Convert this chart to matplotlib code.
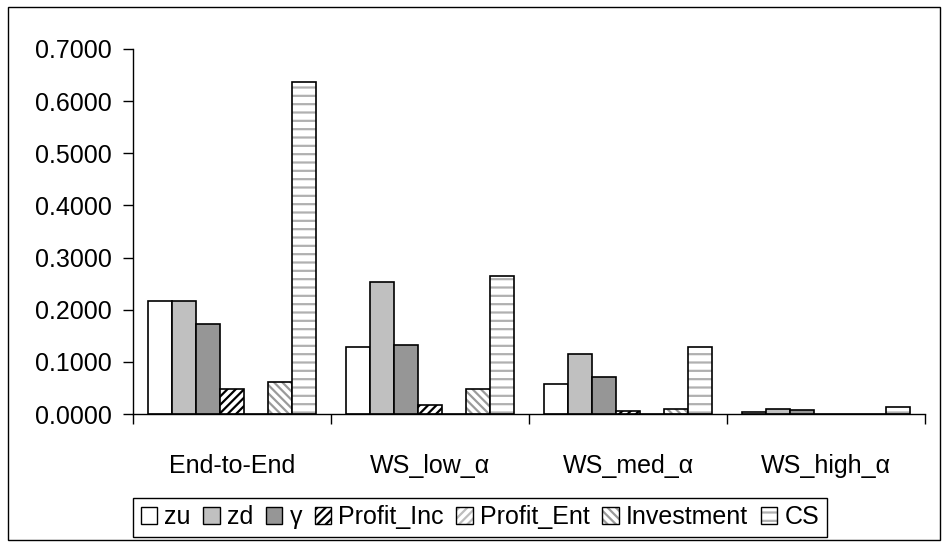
import numpy as np
import matplotlib.pyplot as plt
from matplotlib.patches import Patch, Rectangle
from matplotlib.legend_handler import HandlerTuple

plt.rcParams['font.family'] = ['Liberation Sans', 'DejaVu Sans']
plt.rcParams['hatch.linewidth'] = 1.6

groups = ['End-to-End', 'WS_low_α', 'WS_med_α', 'WS_high_α']
series = ['zu', 'zd', 'γ', 'Profit_Inc', 'Profit_Ent', 'Investment', 'CS']

zu = [0.2166, 0.1280, 0.0570, 0.0040]
zd = [0.2166, 0.2530, 0.1150, 0.0100]
gamma = [0.1730, 0.1330, 0.0710, 0.0070]
profit_inc = [0.0470, 0.0170, 0.0050, 0.0000]
profit_ent = [0.0000, 0.0000, 0.0000, 0.0000]
investment = [0.0620, 0.0470, 0.0100, 0.0000]
cs = [0.6360, 0.2640, 0.1280, 0.0140]

values = [zu, zd, gamma, profit_inc, profit_ent, investment, cs]

# fill colour, hatch pattern, hatch colour
styles = [
    ('white', None, None),
    ('#c0c0c0', None, None),
    ('#969696', None, None),
    ('white', '////', 'black'),
    ('white', '////', '#bdbdbd'),
    ('white', '\\\\\\\\', '#9a9a9a'),
    ('white', '--', '#b0b0b0'),
]

fig = plt.figure(figsize=(9.43, 5.44), dpi=100)
ax = fig.add_axes([133 / 943, 1 - 414 / 544, 792 / 943, 365 / 544])

x = np.arange(len(groups))
w = 0.1212
handles = []
for j, (name, vals) in enumerate(zip(series, values)):
    fc, hatch, hc = styles[j]
    pos = x + (j - 3) * w
    if hatch:
        ax.bar(pos, vals, w, color=fc, hatch=hatch, edgecolor=hc, linewidth=0)
        ax.bar(pos, vals, w, fill=False, edgecolor='black', linewidth=1.2)
        h = (Patch(facecolor=fc, hatch=hatch, edgecolor=hc, linewidth=0),
             Patch(fill=False, edgecolor='black', linewidth=1.0))
    else:
        ax.bar(pos, vals, w, color=fc, edgecolor='black', linewidth=1.2)
        h = Patch(facecolor=fc, edgecolor='black', linewidth=1.0)
    handles.append(h)

ax.set_xlim(-0.5, len(groups) - 0.5)
ax.set_ylim(0, 0.7)
ax.set_yticks(np.arange(0, 0.71, 0.1))
ax.set_yticklabels([f'{v:.4f}' for v in np.arange(0, 0.71, 0.1)])

ax.set_xticks(np.arange(-0.5, len(groups)), labels=[])
ax.set_xticks(x, labels=groups, minor=True)
ax.tick_params(axis='x', which='major', length=7, width=1, direction='out')
ax.tick_params(axis='x', which='minor', length=0, pad=29, labelsize=18)
ax.tick_params(axis='y', length=7, width=1, pad=8, labelsize=18)

for s in ['top', 'right']:
    ax.spines[s].set_visible(False)
for s in ['left', 'bottom']:
    ax.spines[s].set_linewidth(1)

leg = fig.legend(handles, series, loc='center', bbox_to_anchor=(0.509, 1 - 517 / 544),
                 ncol=7, fontsize=18, handler_map={tuple: HandlerTuple(ndivide=1, pad=0)},
                 handlelength=0.65, handleheight=0.65, handletextpad=0.3,
                 columnspacing=0.5, borderpad=0.3, borderaxespad=0,
                 fancybox=False, framealpha=1, edgecolor='black')
leg.get_frame().set_linewidth(1)

# outer chart border
fig.add_artist(Rectangle((8 / 943, 4 / 544), 932 / 943, 533 / 544, fill=False,
                         edgecolor='black', linewidth=1, transform=fig.transFigure))

fig.savefig('out.png', dpi=100)
